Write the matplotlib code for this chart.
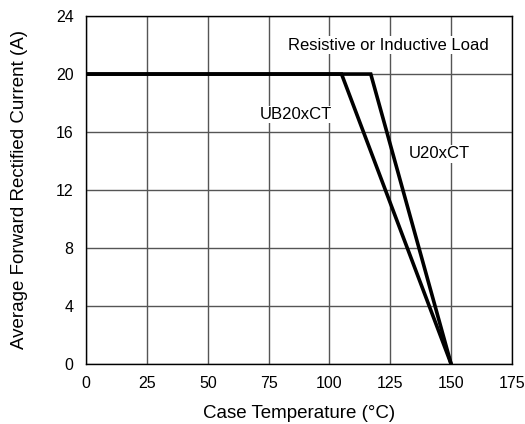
import matplotlib
matplotlib.use('Agg')
import matplotlib.pyplot as plt

# derating curves (case temp degC, current A)
UB_TEMP = [0, 105, 150]
UB_CURRENT = [20, 20, 0]
U_TEMP = [0, 117, 150]
U_CURRENT = [20, 20, 0]

X_TICKS = [0, 25, 50, 75, 100, 125, 150, 175]
Y_TICKS = [0, 4, 8, 12, 16, 20, 24]

plt.rcParams['font.family'] = ['Liberation Sans', 'DejaVu Sans']

fig = plt.figure(figsize=(5.25, 4.24), dpi=100)
ax = fig.add_axes([0.164, 0.142, 0.811, 0.820])

ax.plot(UB_TEMP, UB_CURRENT, color='black', lw=2.6, solid_joinstyle='miter')
ax.plot(U_TEMP, U_CURRENT, color='black', lw=2.6, solid_joinstyle='miter')

ax.set_xlim(0, 175)
ax.set_ylim(0, 24)
ax.set_xticks(X_TICKS)
ax.set_yticks(Y_TICKS)
ax.grid(True, color='#555555', lw=1.0)
ax.set_axisbelow(True)
for s in ax.spines.values():
    s.set_linewidth(1.0)
ax.tick_params(length=0, labelsize=11.5, pad=9)

ax.set_xlabel('Case Temperature (°C)', fontsize=13.5, labelpad=10)
ax.set_ylabel('Average Forward Rectified Current (A)', fontsize=13.5, labelpad=20)

box = dict(facecolor='white', edgecolor='none', pad=1)
ax.text(124.4, 22.0, 'Resistive or Inductive Load', fontsize=12, ha='center', va='center', bbox=box)
ax.text(86.3, 17.2, 'UB20xCT', fontsize=12, ha='center', va='center', bbox=box)
ax.text(145.2, 14.5, 'U20xCT', fontsize=12, ha='center', va='center', bbox=box)

fig.savefig('out.png')
